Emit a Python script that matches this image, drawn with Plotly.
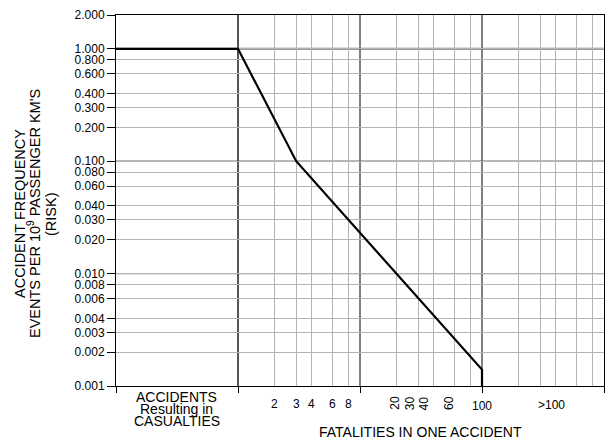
import math
import plotly.graph_objects as go

# ---------------- data ----------------
fatalities = [0.1, 1, 3, 100, 100]
frequency = [1.0, 1.0, 0.1, 0.0014, 0.001]

y_tick_values = [2, 1, 0.8, 0.6, 0.4, 0.3, 0.2, 0.1, 0.08, 0.06, 0.04, 0.03,
                 0.02, 0.01, 0.008, 0.006, 0.004, 0.003, 0.002, 0.001]
y_tick_labels = ["2.000", "1.000", "0.800", "0.600", "0.400", "0.300", "0.200",
                 "0.100", "0.080", "0.060", "0.040", "0.030", "0.020",
                 "0.010", "0.008", "0.006", "0.004", "0.003", "0.002", "0.001"]
y_decades = [1, 0.1, 0.01]

x_major = [0.1, 1, 10, 100, 1000]
x_minor = [2, 3, 4, 6, 8, 20, 30, 40, 60, 80, 200, 300, 400, 600, 800]
x_dark = [1, 10, 100]

x_labels_flat = [2, 3, 4, 6, 8]
x_labels_rot = [20, 30, 40, 60]
x_label_100 = 100
x_label_over = 370
category_x = 0.316
category_lines = ["ACCIDENTS", "Resulting in", "CASUALTIES"]

x_title = "FATALITIES IN ONE ACCIDENT"
y_title_lines = ["ACCIDENT FREQUENCY", "EVENTS PER 10<sup>9</sup> PASSENGER KM'S", "(RISK)"]

FONT = "Liberation Sans, Arial, sans-serif"

fig = go.Figure()
fig.add_trace(go.Scatter(x=fatalities, y=frequency, mode="lines",
                         line=dict(color="black", width=2.2), showlegend=False,
                         hoverinfo="skip"))

fig.update_xaxes(type="log", range=[-1, 3], tickmode="array", tickvals=x_major,
                 showticklabels=False, ticks="outside", ticklen=6, tickcolor="black",
                 showgrid=False, showline=True, mirror=True, linecolor="black",
                 linewidth=1, zeroline=False,
                 minor=dict(tickmode="array", tickvals=x_minor, showgrid=True,
                            gridcolor="#b4b4b4", gridwidth=1, ticks=""))
fig.update_yaxes(type="log", range=[-3, math.log10(2)], tickmode="array",
                 tickvals=y_tick_values, ticktext=y_tick_labels,
                 ticks="outside", ticklen=8, tickcolor="black",
                 tickfont=dict(family=FONT, size=12, color="black"),
                 showgrid=True, gridcolor="#b4b4b4", gridwidth=1,
                 showline=True, mirror=True, linecolor="black", linewidth=1,
                 zeroline=False)

shapes = []
for v in x_dark:
    shapes.append(dict(type="line", xref="x", yref="paper", x0=v, x1=v, y0=0, y1=1,
                       layer="between",
                       line=dict(color="#555555" if v == 1 else "black",
                                 width=2 if v == 1 else 1)))
for v in y_decades:
    shapes.append(dict(type="line", xref="paper", yref="y", x0=0, x1=1, y0=v, y1=v,
                       layer="between",
                       line=dict(color="#777777" if v == 1 else "black",
                                 width=2 if v == 1 else 1)))

ann = []
for v in x_labels_flat:
    ann.append(dict(x=math.log10(v), y=0, xref="x", yref="paper", yshift=-18,
                    text=str(v), showarrow=False, yanchor="middle",
                    font=dict(family=FONT, size=12, color="black")))
rot_shift = [-2, -8, -9, -6]
for v, sh in zip(x_labels_rot, rot_shift):
    ann.append(dict(x=math.log10(v), y=0, xref="x", yref="paper", yshift=-17,
                    xshift=sh, text=str(v), showarrow=False, yanchor="middle",
                    textangle=-90, font=dict(family=FONT, size=12, color="black")))
ann.append(dict(x=math.log10(x_label_100), y=0, xref="x", yref="paper", yshift=-20,
                text=str(x_label_100), showarrow=False, yanchor="middle",
                font=dict(family=FONT, size=12, color="black")))
ann.append(dict(x=math.log10(x_label_over), y=0, xref="x", yref="paper", yshift=-19,
                text="&gt;100", showarrow=False, yanchor="middle",
                font=dict(family=FONT, size=12, color="black")))
for i, t in enumerate(category_lines):
    ann.append(dict(x=math.log10(category_x), y=0, xref="x", yref="paper",
                    yshift=-11 - 11.8 * i, text=t, showarrow=False, yanchor="middle",
                    font=dict(family=FONT, size=14, color="black")))
ann.append(dict(x=0.624, y=0, xref="paper", yref="paper", yshift=-46,
                text=x_title, showarrow=False, yanchor="middle",
                font=dict(family=FONT, size=14, color="black")))
y_cols = [20, 34, 51]
for t, px in zip(y_title_lines, y_cols):
    ann.append(dict(x=0, y=(386 - 214) / 371, xref="paper", yref="paper",
                    xshift=px - 116, text=t, showarrow=False, textangle=-90,
                    xanchor="center", yanchor="middle",
                    font=dict(family=FONT, size=14.5, color="black")))

fig.update_layout(width=605, height=442, margin=dict(l=116, r=1, t=15, b=56),
                  paper_bgcolor="white", plot_bgcolor="white",
                  shapes=shapes, annotations=ann, showlegend=False)

fig.write_html("out.html", config={"displayModeBar": False},
               post_script="document.body.style.margin='0';document.body.style.padding='0';")
